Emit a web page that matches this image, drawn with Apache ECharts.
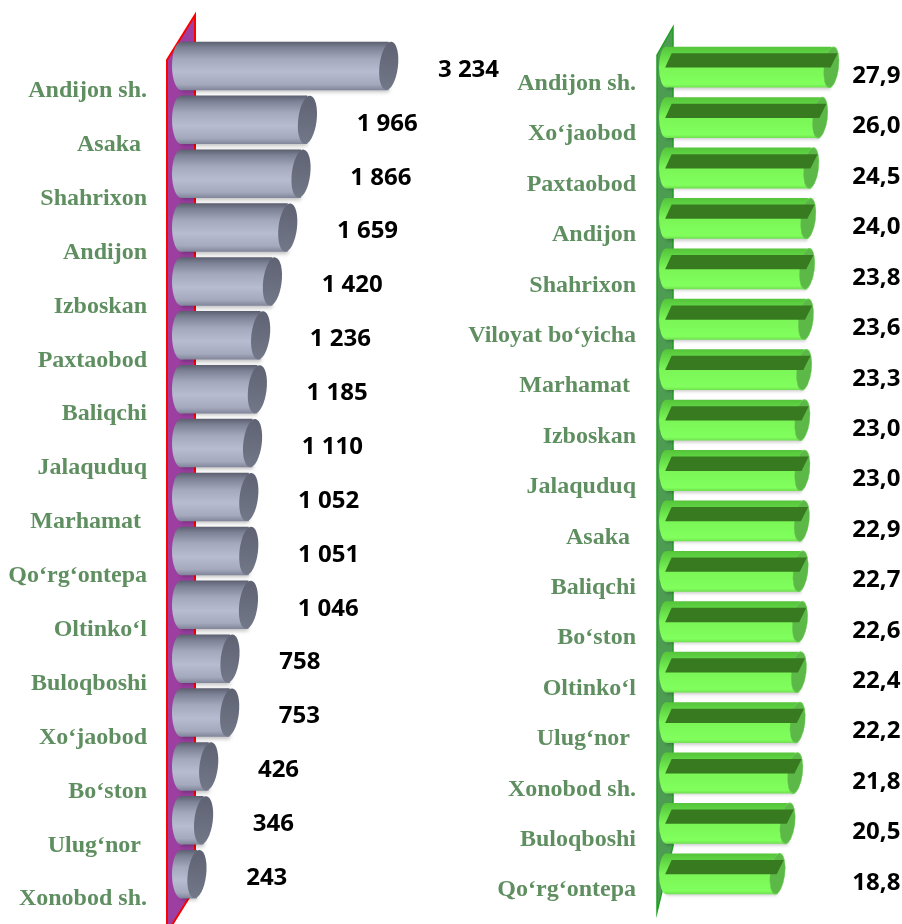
<!DOCTYPE html>
<html>
<head>
<meta charset="utf-8">
<script src="https://cdn.jsdelivr.net/npm/echarts@6/dist/echarts.min.js"></script>
<style>
html, body { margin: 0; padding: 0; background: #fff; }
#main { width: 902px; height: 924px; }
</style>
</head>
<body>
<div id="main"></div>
<script>
// chap diagramma: tuman/shahar bo'yicha soni
var leftCategories = ['Andijon sh.', 'Asaka ', 'Shahrixon', 'Andijon', 'Izboskan', 'Paxtaobod', 'Baliqchi', 'Jalaquduq',
    'Marhamat ', 'Qo‘rg‘ontepa', 'Oltinko‘l', 'Buloqboshi', 'Xo‘jaobod', 'Bo‘ston', 'Ulug‘nor ', 'Xonobod sh.'];
var leftValues = [3234, 1966, 1866, 1659, 1420, 1236, 1185, 1110, 1052, 1051, 1046, 758, 753, 426, 346, 243];

// o'ng diagramma: ulush
var rightCategories = ['Andijon sh.', 'Xo‘jaobod', 'Paxtaobod', 'Andijon', 'Shahrixon', 'Viloyat bo‘yicha', 'Marhamat ',
    'Izboskan', 'Jalaquduq', 'Asaka ', 'Baliqchi', 'Bo‘ston', 'Oltinko‘l', 'Ulug‘nor ', 'Xonobod sh.', 'Buloqboshi', 'Qo‘rg‘ontepa'];
var rightValues = [27.9, 26.0, 24.5, 24.0, 23.8, 23.6, 23.3, 23.0, 23.0, 22.9, 22.7, 22.6, 22.4, 22.2, 21.8, 20.5, 18.8];

var catColor = '#5f8f60';
var numFont = 'bold 24px "Open Sans"';

function fmtThousands(v) {
    return String(v).replace(/\B(?=(\d{3})+(?!\d))/g, ' ');
}
function fmtDecimal(v) {
    return v.toFixed(1).replace('.', ',');
}
function vGrad(stops) {
    return {
        type: 'linear', x: 0, y: 0, x2: 0, y2: 1,
        colorStops: stops.map(function(s) { return { offset: s[0], color: s[1] }; })
    };
}

var grayBody = vGrad([[0, '#5b5f6f'], [0.12, '#7c8195'], [0.35, '#a3a8bd'], [0.62, '#b7bcd1'], [0.88, '#a4a9be'], [1, '#80859a']]);
var grayCap = vGrad([[0, '#5e6272'], [1, '#737889']]);
var greenBody = vGrad([[0, '#55c43a'], [0.16, '#5fd443'], [0.5, '#7af657'], [0.92, '#80ff5d'], [1, '#6fdf4e']]);

//серые цилиндры слева
function renderGrayBar(params, api) {
    var val = api.value(0);
    var idx = api.value(1);
    var end = api.coord([val, idx]);
    var band = api.size([0, 1])[1];
    var h = band * 0.9;
    var ry = h / 2;
    var rx = h * 0.19;
    var x0 = params.coordSys.x;
    var cy = end[1];
    var capX = end[0] - rx;
    return {
        type: 'group',
        children: [
            {
                type: 'rect',
                shape: { x: x0 + rx, y: cy - ry, width: capX - x0 - rx, height: h },
                style: { fill: grayBody, shadowBlur: 4, shadowColor: 'rgba(0,0,0,0.25)', shadowOffsetY: 2 }
            },
            {
                type: 'circle', x: x0 + rx, y: cy, scaleX: rx / ry,
                shape: { cx: 0, cy: 0, r: ry },
                style: { fill: grayBody }
            },
            {
                type: 'circle', x: capX, y: cy, scaleX: rx / ry, rotation: -0.12,
                shape: { cx: 0, cy: 0, r: ry },
                style: { fill: grayCap }
            },
            {
                type: 'text', x: end[0] + 40, y: cy + 4,
                style: { text: fmtThousands(val), font: numFont, fill: '#000', align: 'left', verticalAlign: 'middle' }
            }
        ]
    };
}

//зелёные цилиндры справа
function renderGreenBar(params, api) {
    var val = api.value(0);
    var idx = api.value(1);
    var end = api.coord([val, idx]);
    var labelX = api.coord([30.2, idx])[0];
    var band = api.size([0, 1])[1];
    var h = band * 0.81;
    var ry = h / 2;
    var rx = h * 0.18;
    var x0 = params.coordSys.x;
    var cy = end[1];
    var top = cy - ry;
    var capX = end[0] - rx;
    var sTop = top + h * 0.16;
    var sBot = top + h * 0.51;
    return {
        type: 'group',
        children: [
            {
                type: 'rect',
                shape: { x: x0 + rx, y: top, width: capX - x0 - rx, height: h },
                style: { fill: greenBody, shadowBlur: 3, shadowColor: 'rgba(0,0,0,0.2)', shadowOffsetY: 2 }
            },
            {
                type: 'circle', x: x0 + rx, y: cy, scaleX: rx / ry,
                shape: { cx: 0, cy: 0, r: ry },
                style: { fill: greenBody }
            },
            {
                type: 'circle', x: capX, y: cy, scaleX: rx / ry, rotation: -0.12,
                shape: { cx: 0, cy: 0, r: ry },
                style: { fill: '#5cb948', stroke: '#6cd354', lineWidth: 1 }
            },
            {
                type: 'polygon',
                shape: { points: [[x0 + h * 0.31, sTop], [end[0] - 1, sTop], [end[0] - h * 0.2, sBot], [x0 + h * 0.15, sBot]] },
                style: { fill: '#387a20' }
            },
            {
                type: 'text', x: labelX, y: cy + 9,
                style: { text: fmtDecimal(val), font: numFont, fill: '#000', align: 'left', verticalAlign: 'middle' }
            }
        ]
    };
}

var myChart = echarts.init(document.getElementById('main'));
var catLabel = {
    color: catColor,
    fontFamily: 'Liberation Serif',
    fontWeight: 'bold',
    fontSize: 24,
    verticalAlign: 'top'
};
var option = {
    animation: false,
    backgroundColor: '#fff',
    grid: [
        { left: 172, top: 39, width: 243, height: 868 },
        { left: 659, top: 42, width: 204, height: 857 }
    ],
    xAxis: [
        { gridIndex: 0, type: 'value', min: -290, max: 3500, show: false },
        { gridIndex: 1, type: 'value', min: -2.45, max: 32, show: false }
    ],
    yAxis: [
        {
            gridIndex: 0, type: 'category', inverse: true, data: leftCategories,
            axisLine: { show: false }, axisTick: { show: false }, splitLine: { show: false },
            axisLabel: Object.assign({ margin: 25, lineHeight: 50 }, catLabel)
        },
        {
            gridIndex: 1, type: 'category', inverse: true, data: rightCategories,
            axisLine: { show: false }, axisTick: { show: false }, splitLine: { show: false },
            axisLabel: Object.assign({ margin: 23, lineHeight: 33 }, catLabel)
        }
    ],
    //стенки осей
    graphic: [
        {
            type: 'polygon', z: 0,
            shape: { points: [[167, 60], [195, 15], [195, 888], [167, 933]] },
            style: { fill: '#9d3fa1', stroke: '#ff0000', lineWidth: 2 }
        },
        {
            type: 'polygon', z: 0,
            shape: { points: [[657, 55], [673, 27], [673, 846], [657, 912]] },
            style: { fill: '#4c9c52', stroke: '#1f9e22', lineWidth: 1.5 }
        }
    ],
    series: [
        {
            type: 'custom', xAxisIndex: 0, yAxisIndex: 0, clip: false,
            renderItem: renderGrayBar,
            encode: { x: 0, y: 1 },
            data: leftValues.map(function(v, i) { return [v, i]; })
        },
        {
            type: 'custom', xAxisIndex: 1, yAxisIndex: 1, clip: false,
            renderItem: renderGreenBar,
            encode: { x: 0, y: 1 },
            data: rightValues.map(function(v, i) { return [v, i]; })
        }
    ]
};
myChart.setOption(option);
</script>
</body>
</html>
